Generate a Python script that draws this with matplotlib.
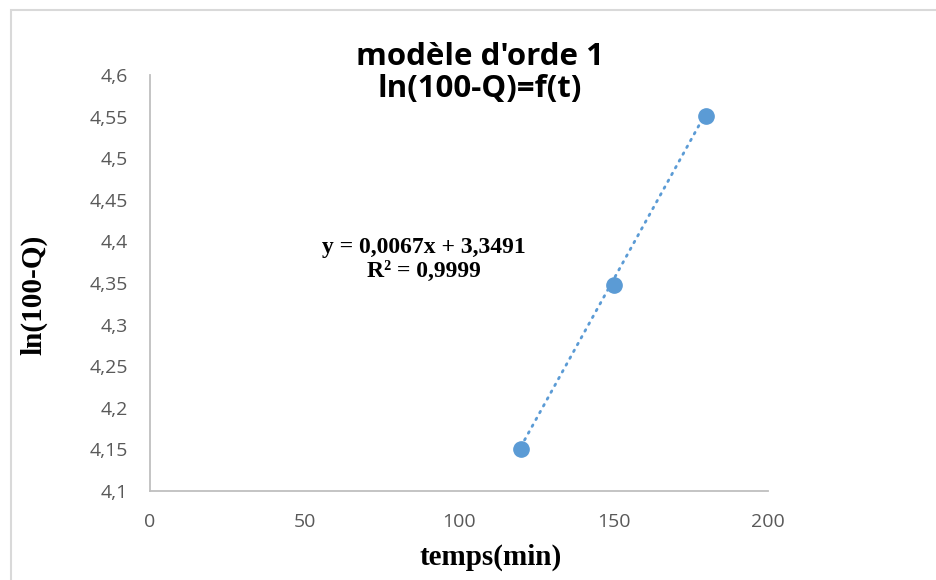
import numpy as np
import matplotlib.pyplot as plt
from matplotlib.patches import Rectangle
from matplotlib.ticker import FuncFormatter

# Données cinétiques : temps (min) et ln(100-Q)
temps = [120, 150, 180]
ln_q = [4.1505, 4.3476, 4.5507]

# Droite de tendance affichée
pente = 0.0067
ordonnee = 3.3491
r2 = 0.9999

x_ticks = [0, 50, 100, 150, 200]
y_ticks = [4.1, 4.15, 4.2, 4.25, 4.3, 4.35, 4.4, 4.45, 4.5, 4.55, 4.6]

bleu = '#5B9BD5'
gris = '#595959'

fig = plt.figure(figsize=(9.36, 5.8), dpi=100)
ax = fig.add_axes([150/936, 1 - 491/580, 618/936, 416/580])

# cadre du graphique
fig.patches.append(Rectangle((11/936, -0.1), 1.2, 1 - 10/580 + 0.1, transform=fig.transFigure,
                             fill=False, edgecolor='#D9D9D9', linewidth=1.5))

xt = np.array([temps[0], temps[-1]])
ax.plot(xt, pente * xt + ordonnee, linestyle=(0, (0.6, 2.2)), dash_capstyle='round',
        color=bleu, linewidth=2.0, zorder=2)
ax.plot(temps, ln_q, 'o', color=bleu, markersize=11, zorder=3)

ax.set_xlim(0, 200)
ax.set_ylim(4.1, 4.6)
ax.set_xticks(x_ticks)
ax.set_yticks(y_ticks)

fmt = FuncFormatter(lambda v, p: ('%g' % round(v, 2)).replace('.', ','))
ax.xaxis.set_major_formatter(fmt)
ax.yaxis.set_major_formatter(fmt)
ax.tick_params(length=0, labelsize=14, labelcolor=gris, pad=16)
for lab in ax.get_xticklabels() + ax.get_yticklabels():
    lab.set_family('Open Sans')

for s in ['top', 'right']:
    ax.spines[s].set_visible(False)
for s in ['left', 'bottom']:
    ax.spines[s].set_color('#BFBFBF')
    ax.spines[s].set_linewidth(1.3)

fig.text(480/936, 1 - 65/580, "modèle d'orde 1", ha='center', va='baseline',
         fontsize=22.5, fontweight='bold', family='Open Sans')
fig.text(480/936, 1 - 97/580, "ln(100-Q)=f(t)", ha='center', va='baseline',
         fontsize=22.5, fontweight='bold', family='Open Sans')

fig.text(491/936, 1 - 557/580, 'temps(min)', ha='center', va='center',
         fontsize=21, fontweight='bold', family='Liberation Serif')
fig.text(34/936, 1 - 295/580, 'ln(100-Q)', ha='center', va='center', rotation=90,
         fontsize=21, fontweight='bold', family='Liberation Serif')

ligne1 = 'y = %sx + %s' % (str(pente).replace('.', ','), str(ordonnee).replace('.', ','))
ligne2 = 'R² = %s' % str(r2).replace('.', ',')
fig.text(424/936, 1 - 253/580, ligne1, ha='center', va='baseline', fontsize=17,
         fontweight='bold', family='Liberation Serif')
fig.text(424/936, 1 - 277/580, ligne2, ha='center', va='baseline', fontsize=17,
         fontweight='bold', family='Liberation Serif')

fig.savefig('out.png', dpi=100)
